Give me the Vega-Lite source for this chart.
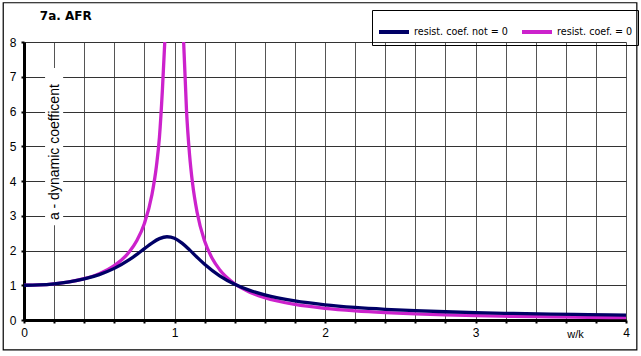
{
  "$schema": "https://vega.github.io/schema/vega-lite/v6.json",
  "width": 602,
  "height": 278,
  "autosize": {"type": "none"},
  "padding": {"left": 24, "top": 42, "right": 15, "bottom": 36},
  "background": "white",
  "config": {
    "view": {"stroke": null},
    "axis": {"labelFont": "Liberation Sans", "labelFontSize": 12, "labelColor": "black", "titleFont": "Liberation Sans", "titleFontWeight": "normal", "titleFontSize": 11, "titleColor": "black"},
    "legend": {"orient": "none", "legendX": 348, "legendY": -32, "direction": "horizontal", "strokeColor": "black", "padding": 5, "labelFont": "DejaVu Sans", "labelFontSize": 9.6, "labelColor": "black", "columnPadding": 6, "symbolType": "stroke", "symbolSize": 900, "symbolStrokeWidth": 4, "labelOffset": 3}
  },
  "datasets": {
    "curves": [
      {"r": 0, "a": 1, "s": "resist. coef. = 0", "seg": "p1"},
      {"r": 0.1, "a": 1.0101, "s": "resist. coef. = 0", "seg": "p1"},
      {"r": 0.2, "a": 1.0417, "s": "resist. coef. = 0", "seg": "p1"},
      {"r": 0.3, "a": 1.0989, "s": "resist. coef. = 0", "seg": "p1"},
      {"r": 0.4, "a": 1.1905, "s": "resist. coef. = 0", "seg": "p1"},
      {"r": 0.5, "a": 1.3333, "s": "resist. coef. = 0", "seg": "p1"},
      {"r": 0.6, "a": 1.5625, "s": "resist. coef. = 0", "seg": "p1"},
      {"r": 0.7, "a": 1.9608, "s": "resist. coef. = 0", "seg": "p1"},
      {"r": 0.75, "a": 2.2857, "s": "resist. coef. = 0", "seg": "p1"},
      {"r": 0.8, "a": 2.7778, "s": "resist. coef. = 0", "seg": "p1"},
      {"r": 0.85, "a": 3.6036, "s": "resist. coef. = 0", "seg": "p1"},
      {"r": 0.88, "a": 4.4326, "s": "resist. coef. = 0", "seg": "p1"},
      {"r": 0.9, "a": 5.2632, "s": "resist. coef. = 0", "seg": "p1"},
      {"r": 0.92, "a": 6.6489, "s": "resist. coef. = 0", "seg": "p1"},
      {"r": 0.9354, "a": 8.0, "s": "resist. coef. = 0", "seg": "p1"},
      {"r": 1.0607, "a": 8.0, "s": "resist. coef. = 0", "seg": "p2"},
      {"r": 1.08, "a": 6.0096, "s": "resist. coef. = 0", "seg": "p2"},
      {"r": 1.1, "a": 4.7619, "s": "resist. coef. = 0", "seg": "p2"},
      {"r": 1.12, "a": 3.9308, "s": "resist. coef. = 0", "seg": "p2"},
      {"r": 1.15, "a": 3.1008, "s": "resist. coef. = 0", "seg": "p2"},
      {"r": 1.2, "a": 2.2727, "s": "resist. coef. = 0", "seg": "p2"},
      {"r": 1.25, "a": 1.7778, "s": "resist. coef. = 0", "seg": "p2"},
      {"r": 1.3, "a": 1.4493, "s": "resist. coef. = 0", "seg": "p2"},
      {"r": 1.4, "a": 1.0417, "s": "resist. coef. = 0", "seg": "p2"},
      {"r": 1.5, "a": 0.8, "s": "resist. coef. = 0", "seg": "p2"},
      {"r": 1.6, "a": 0.641, "s": "resist. coef. = 0", "seg": "p2"},
      {"r": 1.8, "a": 0.4464, "s": "resist. coef. = 0", "seg": "p2"},
      {"r": 2.0, "a": 0.3333, "s": "resist. coef. = 0", "seg": "p2"},
      {"r": 2.2, "a": 0.2604, "s": "resist. coef. = 0", "seg": "p2"},
      {"r": 2.4, "a": 0.2101, "s": "resist. coef. = 0", "seg": "p2"},
      {"r": 2.6, "a": 0.1736, "s": "resist. coef. = 0", "seg": "p2"},
      {"r": 2.8, "a": 0.1462, "s": "resist. coef. = 0", "seg": "p2"},
      {"r": 3.0, "a": 0.125, "s": "resist. coef. = 0", "seg": "p2"},
      {"r": 3.25, "a": 0.1047, "s": "resist. coef. = 0", "seg": "p2"},
      {"r": 3.5, "a": 0.0889, "s": "resist. coef. = 0", "seg": "p2"},
      {"r": 3.75, "a": 0.0762, "s": "resist. coef. = 0", "seg": "p2"},
      {"r": 4.0, "a": 0.0667, "s": "resist. coef. = 0", "seg": "p2"},
      {"r": 0, "a": 1, "s": "resist. coef. not = 0", "seg": "n"},
      {"r": 0.1, "a": 1.0101, "s": "resist. coef. not = 0", "seg": "n"},
      {"r": 0.2, "a": 1.0413, "s": "resist. coef. not = 0", "seg": "n"},
      {"r": 0.3, "a": 1.0967, "s": "resist. coef. not = 0", "seg": "n"},
      {"r": 0.4, "a": 1.1821, "s": "resist. coef. not = 0", "seg": "n"},
      {"r": 0.5, "a": 1.307, "s": "resist. coef. not = 0", "seg": "n"},
      {"r": 0.6, "a": 1.4856, "s": "resist. coef. not = 0", "seg": "n"},
      {"r": 0.7, "a": 1.7346, "s": "resist. coef. not = 0", "seg": "n"},
      {"r": 0.75, "a": 1.8872, "s": "resist. coef. not = 0", "seg": "n"},
      {"r": 0.8, "a": 2.0523, "s": "resist. coef. not = 0", "seg": "n"},
      {"r": 0.85, "a": 2.2138, "s": "resist. coef. not = 0", "seg": "n"},
      {"r": 0.9, "a": 2.3415, "s": "resist. coef. not = 0", "seg": "n"},
      {"r": 0.95, "a": 2.3963, "s": "resist. coef. not = 0", "seg": "n"},
      {"r": 1.0, "a": 2.3509, "s": "resist. coef. not = 0", "seg": "n"},
      {"r": 1.05, "a": 2.2124, "s": "resist. coef. not = 0", "seg": "n"},
      {"r": 1.1, "a": 2.0174, "s": "resist. coef. not = 0", "seg": "n"},
      {"r": 1.15, "a": 1.806, "s": "resist. coef. not = 0", "seg": "n"},
      {"r": 1.2, "a": 1.605, "s": "resist. coef. not = 0", "seg": "n"},
      {"r": 1.3, "a": 1.2715, "s": "resist. coef. not = 0", "seg": "n"},
      {"r": 1.4, "a": 1.0285, "s": "resist. coef. not = 0", "seg": "n"},
      {"r": 1.5, "a": 0.8526, "s": "resist. coef. not = 0", "seg": "n"},
      {"r": 1.6, "a": 0.7225, "s": "resist. coef. not = 0", "seg": "n"},
      {"r": 1.8, "a": 0.547, "s": "resist. coef. not = 0", "seg": "n"},
      {"r": 2.0, "a": 0.4366, "s": "resist. coef. not = 0", "seg": "n"},
      {"r": 2.2, "a": 0.3617, "s": "resist. coef. not = 0", "seg": "n"},
      {"r": 2.4, "a": 0.3082, "s": "resist. coef. not = 0", "seg": "n"},
      {"r": 2.6, "a": 0.2682, "s": "resist. coef. not = 0", "seg": "n"},
      {"r": 2.8, "a": 0.2373, "s": "resist. coef. not = 0", "seg": "n"},
      {"r": 3.0, "a": 0.2128, "s": "resist. coef. not = 0", "seg": "n"},
      {"r": 3.25, "a": 0.1885, "s": "resist. coef. not = 0", "seg": "n"},
      {"r": 3.5, "a": 0.1693, "s": "resist. coef. not = 0", "seg": "n"},
      {"r": 3.75, "a": 0.1537, "s": "resist. coef. not = 0", "seg": "n"},
      {"r": 4.0, "a": 0.1409, "s": "resist. coef. not = 0", "seg": "n"}
    ]
  },
  "layer": [
    {
      "data": {"name": "curves"},
      "mark": {"type": "line", "interpolate": "monotone", "clip": true, "strokeWidth": 3.3, "strokeCap": "butt"},
      "encoding": {
        "x": {"field": "r", "type": "quantitative", "scale": {"domain": [0, 4], "nice": false}, "axis": {"values": [0,0.2,0.4,0.6,0.8,1,1.2,1.4,1.6,1.8,2,2.2,2.4,2.6,2.8,3,3.2,3.4,3.6,3.8,4], "tickCount": 30, "labelExpr": "datum.value % 1 == 0 ? format(datum.value, 'd') : ''", "labelOverlap": false, "labelFlush": false, "grid": true, "gridColor": "#555", "gridOpacity": 1, "gridWidth": 1, "domainColor": "black", "domainWidth": 3, "tickColor": "black", "tickSize": 3, "tickWidth": 2, "labelPadding": 4, "title": "w/k", "titleX": 551, "titleY": 8, "titleBaseline": "top", "titleAlign": "center", "titleFontSize": 11}},
        "y": {"field": "a", "type": "quantitative", "scale": {"domain": [0, 8], "nice": false}, "axis": {"values": [0,1,2,3,4,5,6,7,8], "tickCount": 12, "format": "d", "labelOverlap": false, "labelFlush": false, "grid": true, "gridColor": "#333", "gridOpacity": 1, "gridWidth": 1, "domainColor": "black", "domainWidth": 3, "tickColor": "black", "tickSize": 3, "tickWidth": 2, "labelPadding": 5, "title": null}},
        "color": {"field": "s", "type": "nominal", "scale": {"domain": ["resist. coef. not = 0", "resist. coef. = 0"], "range": ["#000066", "#cc22cc"]}, "legend": {"title": null}},
        "detail": {"field": "seg"},
        "order": {"field": "r", "type": "quantitative"}
      }
    },
    {
      "data": {"values": [{"k": 1}]},
      "mark": {"type": "rect", "fill": null, "stroke": "black", "strokeWidth": 1.2, "clip": false},
      "encoding": {
        "x": {"datum": -0.138, "type": "quantitative"},
        "x2": {"datum": 4.072},
        "y": {"datum": 9.13, "type": "quantitative"},
        "y2": {"datum": -0.86}
      }
    },
    {
      "data": {"values": [{"k": 1}]},
      "mark": {"type": "rect", "fill": "white", "stroke": null},
      "encoding": {
        "x": {"datum": 0.14, "type": "quantitative"},
        "x2": {"datum": 0.26},
        "y": {"datum": 2.73, "type": "quantitative"},
        "y2": {"datum": 7.25}
      }
    },
    {
      "data": {"values": [{"t": "a - dynamic coefficent"}]},
      "mark": {"type": "text", "angle": 270, "align": "center", "baseline": "middle", "font": "Liberation Sans", "fontSize": 14, "color": "black"},
      "encoding": {
        "x": {"datum": 0.205, "type": "quantitative"},
        "y": {"datum": 4.83, "type": "quantitative"},
        "text": {"field": "t"}
      }
    },
    {
      "data": {"values": [{"t": "7a.  AFR"}]},
      "mark": {"type": "text", "align": "left", "baseline": "alphabetic", "font": "DejaVu Sans", "fontSize": 12, "fontWeight": "bold", "color": "black", "clip": false},
      "encoding": {
        "x": {"datum": 0.105, "type": "quantitative"},
        "y": {"datum": 8.64, "type": "quantitative"},
        "text": {"field": "t"}
      }
    }
  ]
}
